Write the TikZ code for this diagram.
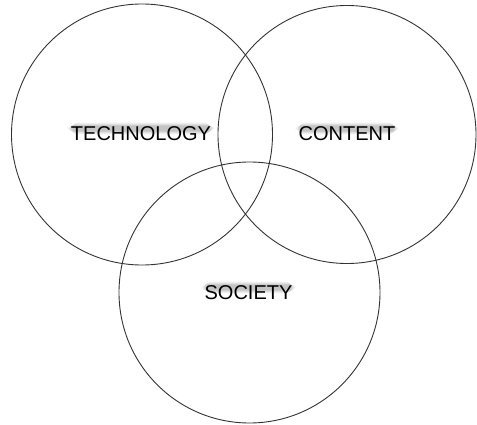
\documentclass[tikz,border=0pt]{standalone}
\usepackage{fontspec}
\setmainfont{Liberation Sans}
\usetikzlibrary{backgrounds}
\begin{document}
\begin{tikzpicture}[x=1pt,y=-1pt,
  ring/.style={draw=black!80,line width=0.9pt},
  lbl/.style={font=\fontsize{20}{24}\selectfont,text=black,inner sep=0pt},
  shadowbar/.style={fill=black,opacity=0.05,rounded corners=4pt}]
\useasboundingbox (0,0) rectangle (477,425);
\draw[ring] (142,134.5) circle (130.5);
\draw[ring] (347,134.5) circle (129);
\draw[ring] (249.5,292.5) circle (130.5);
\node[lbl] (tech) at (141,134) {TECHNOLOGY};
\node[lbl] (cont) at (347,134) {CONTENT};
\node[lbl] (soc) at (248.5,293) {SOCIETY};
\begin{scope}[on background layer]
\foreach \n in {tech,cont,soc}{
  \foreach \k in {0,1,2,3,4}{
    \fill[shadowbar]
      ([xshift={2-\k*1.2},yshift={4-\k*0.8}]\n.north west) rectangle
      ([xshift={-2+\k*1.2},yshift={7+\k*0.8}]\n.south east);
  }
}
\end{scope}
\end{tikzpicture}
\end{document}
